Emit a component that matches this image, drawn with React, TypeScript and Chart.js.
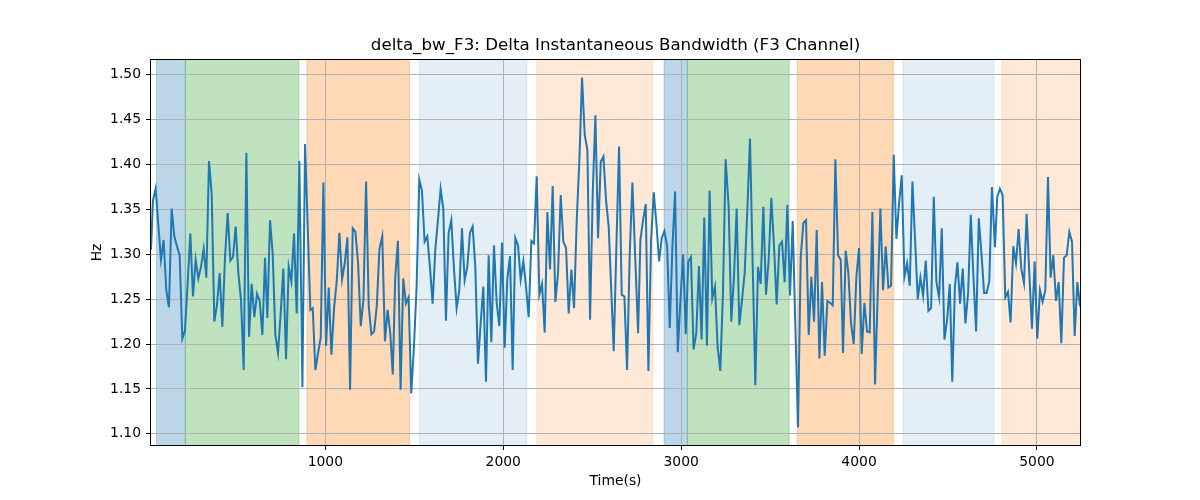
import React, { useEffect, useRef } from "react";
import { Chart, registerables } from "chart.js";

Chart.register(...registerables);

// Time (s) of each sample
const timeS: number[] = [
  20, 31, 46, 76, 91, 106, 121, 136, 151, 166, 181, 196, 211, 226, 241, 256, 271, 286, 301, 316,
  331, 346, 361, 376, 391, 406, 421, 436, 451, 466, 481, 496, 511, 526, 541, 556, 571, 586, 601, 616,
  631, 646, 661,
  674, 689, 704, 719, 734, 749, 764, 779, 794, 809, 824, 839, 854, 871, 886, 901, 916, 929, 944, 959,
  974, 989, 1004, 1019, 1034, 1049, 1064, 1079, 1094, 1109, 1124, 1139, 1154, 1169, 1184, 1199, 1214, 1229, 1244, 1259,
  1274, 1289, 1304,
  1320, 1335, 1350, 1365, 1379, 1393, 1408, 1423, 1438, 1453, 1468, 1483, 1498, 1513, 1528, 1543, 1558, 1573, 1588, 1603,
  1618, 1633, 1648, 1663, 1678, 1693, 1708, 1723, 1738, 1753, 1768, 1783, 1798, 1813, 1828, 1843, 1858, 1873, 1888, 1903,
  1918, 1933, 1948,
  1963, 1978, 1993, 2008, 2023, 2038, 2053, 2068, 2083, 2098, 2113, 2128, 2143, 2158, 2173, 2188, 2203, 2218, 2233, 2248,
  2263, 2278, 2293, 2308, 2323, 2338, 2353, 2368, 2383, 2398, 2413, 2428, 2443, 2458, 2473, 2488, 2503, 2518, 2533, 2548,
  2563, 2578, 2593,
  2621, 2636, 2651, 2666, 2681, 2696, 2711, 2726, 2741, 2758, 2771, 2786, 2801, 2816, 2831, 2846, 2861, 2876, 2891, 2906,
  2921, 2936, 2951, 2966, 2981, 2996, 3011, 3026, 3040, 3055, 3070, 3085, 3100, 3115, 3130, 3145, 3160, 3175, 3190, 3205,
  3220, 3235, 3250,
  3267, 3282, 3297, 3312, 3327, 3342, 3357, 3372, 3387, 3402, 3417, 3432, 3447, 3462, 3477, 3492, 3507, 3522, 3537, 3552,
  3567, 3582, 3597, 3612, 3627, 3642, 3657, 3672, 3687, 3702, 3717, 3732, 3747, 3762, 3777, 3792, 3807, 3822, 3837, 3852,
  3867, 3882, 3897,
  3910, 3925, 3940, 3955, 3970, 3985, 4000, 4015, 4030, 4045, 4060, 4075, 4090, 4105, 4120, 4135, 4150, 4165, 4180, 4195,
  4210, 4225, 4240, 4255, 4270, 4285, 4300, 4315, 4330, 4345, 4360, 4375, 4390, 4405, 4420, 4435, 4450, 4465, 4480, 4495,
  4510, 4524, 4539,
  4553, 4568, 4583, 4598, 4613, 4628, 4643, 4658, 4673, 4688, 4703, 4717, 4732, 4747, 4764, 4777, 4792, 4807, 4822, 4837,
  4852, 4867, 4882, 4897, 4912, 4927, 4942, 4957, 4972, 4987, 5002, 5017, 5032, 5047, 5062, 5077, 5092, 5107, 5122, 5137,
  5152, 5167, 5182, 5197, 5212, 5227, 5242,
];

// Delta instantaneous bandwidth (Hz)
const deltaBwHz: number[] = [
  1.305, 1.360, 1.373, 1.294, 1.316, 1.260, 1.241, 1.351, 1.320, 1.309, 1.299, 1.206, 1.215, 1.268, 1.323, 1.253, 1.294, 1.273, 1.286, 1.306,
  1.274, 1.404, 1.368, 1.225, 1.244, 1.279, 1.219, 1.297, 1.346, 1.293, 1.297, 1.331, 1.279, 1.249, 1.171, 1.413, 1.208, 1.267, 1.230, 1.256,
  1.248, 1.210, 1.296,
  1.229, 1.338, 1.301, 1.210, 1.190, 1.234, 1.284, 1.183, 1.286, 1.270, 1.323, 1.234, 1.404, 1.152, 1.423, 1.329, 1.238, 1.240, 1.171, 1.190,
  1.207, 1.380, 1.198, 1.263, 1.188, 1.240, 1.270, 1.324, 1.272, 1.290, 1.319, 1.149, 1.329, 1.325, 1.290, 1.220, 1.249, 1.381, 1.242, 1.211,
  1.214, 1.242, 1.306,
  1.320, 1.203, 1.238, 1.212, 1.166, 1.275, 1.315, 1.149, 1.273, 1.245, 1.252, 1.145, 1.197, 1.264, 1.383, 1.371, 1.314, 1.320, 1.286, 1.245,
  1.305, 1.338, 1.373, 1.351, 1.226, 1.324, 1.338, 1.284, 1.240, 1.260, 1.329, 1.271, 1.286, 1.324, 1.331, 1.286, 1.178, 1.223, 1.264, 1.158,
  1.299, 1.202, 1.310,
  1.246, 1.220, 1.313, 1.196, 1.273, 1.298, 1.171, 1.318, 1.310, 1.272, 1.292, 1.264, 1.230, 1.315, 1.312, 1.387, 1.255, 1.267, 1.213, 1.347,
  1.283, 1.376, 1.247, 1.279, 1.366, 1.314, 1.307, 1.234, 1.283, 1.240, 1.338, 1.405, 1.497, 1.433, 1.416, 1.227, 1.368, 1.455, 1.318, 1.403,
  1.409, 1.360, 1.330,
  1.192, 1.309, 1.420, 1.255, 1.253, 1.171, 1.301, 1.380, 1.301, 1.212, 1.316, 1.338, 1.356, 1.170, 1.316, 1.369, 1.334, 1.292, 1.318, 1.326,
  1.309, 1.218, 1.309, 1.370, 1.191, 1.249, 1.300, 1.211, 1.292, 1.297, 1.194, 1.212, 1.287, 1.205, 1.341, 1.198, 1.371, 1.251, 1.264, 1.197,
  1.170, 1.257, 1.406,
  1.353, 1.225, 1.275, 1.351, 1.221, 1.249, 1.279, 1.349, 1.429, 1.290, 1.154, 1.286, 1.267, 1.353, 1.255, 1.294, 1.363, 1.309, 1.244, 1.310,
  1.314, 1.269, 1.355, 1.254, 1.337, 1.220, 1.107, 1.296, 1.335, 1.338, 1.210, 1.275, 1.225, 1.327, 1.184, 1.269, 1.187, 1.248, 1.246, 1.243,
  1.406, 1.299, 1.294,
  1.190, 1.304, 1.279, 1.223, 1.200, 1.275, 1.307, 1.189, 1.246, 1.214, 1.213, 1.347, 1.155, 1.257, 1.351, 1.260, 1.309, 1.263, 1.265, 1.411,
  1.317, 1.357, 1.388, 1.275, 1.290, 1.265, 1.381, 1.316, 1.250, 1.274, 1.254, 1.293, 1.237, 1.240, 1.364, 1.269, 1.252, 1.329, 1.205, 1.227,
  1.267, 1.158, 1.264,
  1.291, 1.245, 1.284, 1.223, 1.257, 1.344, 1.275, 1.214, 1.340, 1.301, 1.257, 1.257, 1.270, 1.375, 1.308, 1.364, 1.373, 1.366, 1.252, 1.258,
  1.224, 1.309, 1.290, 1.328, 1.284, 1.268, 1.345, 1.279, 1.217, 1.292, 1.206, 1.260, 1.247, 1.260, 1.386, 1.274, 1.299, 1.248, 1.269, 1.201,
  1.296, 1.299, 1.325, 1.314, 1.209, 1.269, 1.242,
];

// Shaded time regions
const spanStart: number[] = [51, 213, 897, 1528, 2189, 2904, 3035, 3653, 4247, 4803];
const spanEnd: number[] = [213, 852, 1473, 2133, 2841, 3035, 3607, 4193, 4758, 5300];
const spanColor: string[] = [
  "rgba(31,119,180,0.3)",
  "rgba(44,160,44,0.3)",
  "rgba(255,127,14,0.3)",
  "rgba(31,119,180,0.12)",
  "rgba(255,127,14,0.17)",
  "rgba(31,119,180,0.3)",
  "rgba(44,160,44,0.3)",
  "rgba(255,127,14,0.3)",
  "rgba(31,119,180,0.12)",
  "rgba(255,127,14,0.17)",
];

const xTicks: number[] = [1000, 2000, 3000, 4000, 5000];
const yTicks: number[] = [1.1, 1.15, 1.2, 1.25, 1.3, 1.35, 1.4, 1.45, 1.5];

const titleText = "delta_bw_F3: Delta Instantaneous Bandwidth (F3 Channel)";
const FONT = "'DejaVu Sans', 'Liberation Sans', sans-serif";

const decorPlugin = {
  id: "decor",
  beforeDraw(chart: any) {
    const { ctx, chartArea, scales } = chart;
    const xs = scales.x;
    ctx.save();
    ctx.beginPath();
    ctx.rect(chartArea.left, chartArea.top, chartArea.right - chartArea.left, chartArea.bottom - chartArea.top);
    ctx.clip();
    for (let i = 0; i < spanStart.length; i++) {
      const x0 = xs.getPixelForValue(spanStart[i]);
      const x1 = xs.getPixelForValue(spanEnd[i]);
      ctx.fillStyle = spanColor[i];
      ctx.fillRect(x0, chartArea.top, x1 - x0, chartArea.bottom - chartArea.top);
      ctx.strokeStyle = spanColor[i];
      ctx.lineWidth = 1;
      ctx.beginPath();
      ctx.moveTo(x0, chartArea.top);
      ctx.lineTo(x0, chartArea.bottom);
      ctx.moveTo(x1, chartArea.top);
      ctx.lineTo(x1, chartArea.bottom);
      ctx.stroke();
    }
    ctx.restore();
  },
  afterDraw(chart: any) {
    const { ctx, chartArea } = chart;
    ctx.save();
    ctx.strokeStyle = "#000";
    ctx.lineWidth = 1;
    ctx.strokeRect(
      Math.round(chartArea.left) - 0.5,
      Math.round(chartArea.top) - 0.5,
      Math.round(chartArea.right - chartArea.left) + 1,
      Math.round(chartArea.bottom - chartArea.top) + 1
    );
    ctx.fillStyle = "#000";
    ctx.font = `16.7px ${FONT}`;
    ctx.textAlign = "center";
    ctx.textBaseline = "middle";
    ctx.fillText(titleText, (chartArea.left + chartArea.right) / 2, 46);
    ctx.restore();
  },
};

export default function App() {
  const canvasRef = useRef<HTMLCanvasElement | null>(null);

  useEffect(() => {
    if (!canvasRef.current) return;
    Chart.defaults.font.family = FONT;
    const points = timeS.map((t, i) => ({ x: t, y: deltaBwHz[i] }));
    const chart = new Chart(canvasRef.current, {
      type: "line",
      data: {
        datasets: [
          {
            data: points,
            borderColor: "#1f77b4",
            borderWidth: 2,
            pointRadius: 0,
            tension: 0,
            fill: false,
          },
        ],
      },
      options: {
        animation: false,
        responsive: false,
        devicePixelRatio: 1,
        layout: { padding: { left: 0, right: 120, top: 60, bottom: 0 } },
        plugins: {
          legend: { display: false },
          tooltip: { enabled: false },
          title: { display: false },
        },
        scales: {
          x: {
            type: "linear",
            min: 20,
            max: 5242,
            afterFit: (s: any) => {
              s.height = 55;
            },
            afterBuildTicks: (s: any) => {
              s.ticks = xTicks.map((v) => ({ value: v }));
            },
            ticks: {
              color: "#000",
              font: { size: 13.9, family: FONT },
              padding: 4,
              maxRotation: 0,
              callback: (v: any) => String(v),
            },
            grid: {
              color: "#b0b0b0",
              lineWidth: 1,
              tickColor: "#000",
              tickLength: 5,
              drawTicks: true,
            },
            border: { display: false },
            title: {
              display: true,
              text: "Time(s)",
              color: "#000",
              font: { size: 13.9, family: FONT },
              padding: { top: 0, bottom: 10.7 },
            },
          },
          y: {
            type: "linear",
            min: 1.0875,
            max: 1.5165,
            afterFit: (s: any) => {
              s.width = 151;
            },
            afterBuildTicks: (s: any) => {
              s.ticks = yTicks.map((v) => ({ value: v }));
            },
            ticks: {
              color: "#000",
              font: { size: 13.9, family: FONT },
              padding: 5,
              callback: (v: any) => Number(v).toFixed(2),
            },
            grid: {
              color: "#b0b0b0",
              lineWidth: 1,
              tickColor: "#000",
              tickLength: 5,
              drawTicks: true,
            },
            border: { display: false },
            title: {
              display: true,
              text: "Hz",
              color: "#000",
              font: { size: 13.9, family: FONT },
              padding: { top: 88.7, bottom: 0 },
            },
          },
        },
      },
      plugins: [decorPlugin],
    });
    return () => chart.destroy();
  }, []);

  return (
    <div style={{ position: "absolute", left: 0, top: 0, width: 1200, height: 500, background: "#fff" }}>
      <canvas ref={canvasRef} width={1200} height={500} style={{ display: "block" }} />
    </div>
  );
}
